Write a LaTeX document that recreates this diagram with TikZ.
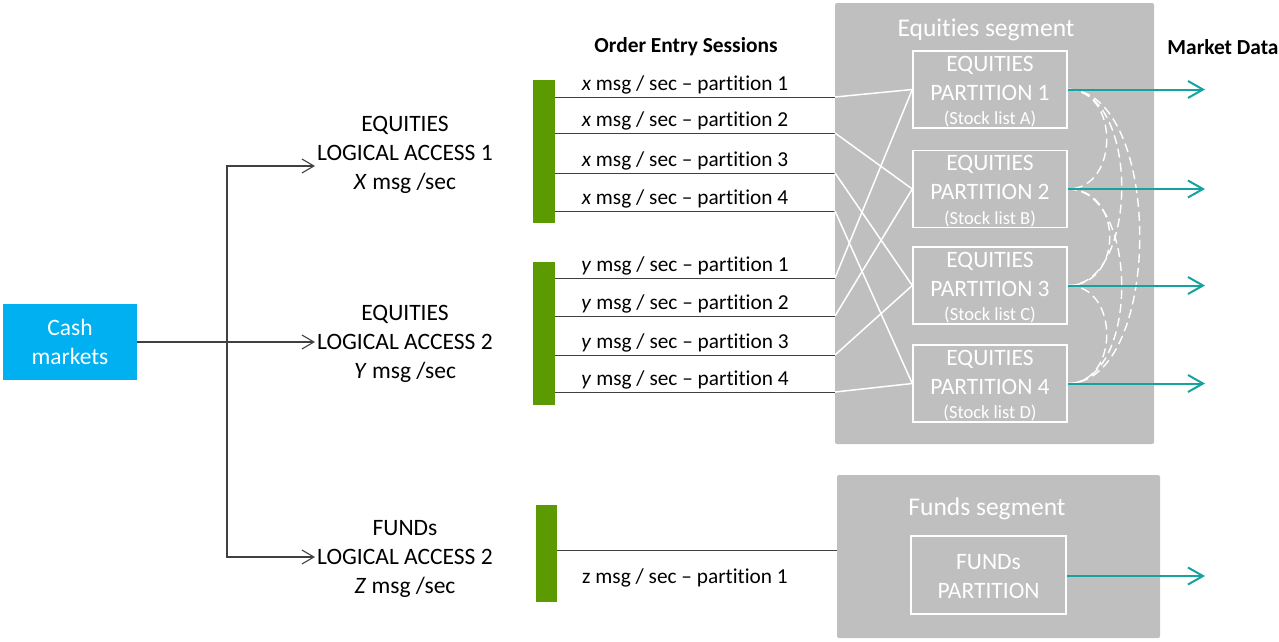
\documentclass[tikz,border=0pt]{standalone}
\usepackage{fontspec}
\setmainfont{Carlito}[Ligatures={NoCommon,NoContextual}]
\usetikzlibrary{arrows.meta}
\definecolor{cashblue}{HTML}{00B0F0}
\definecolor{barGreen}{HTML}{5B9A00}
\definecolor{segGray}{HTML}{BFBFBF}
\definecolor{mdTeal}{HTML}{14A39E}
\definecolor{lineGray}{HTML}{404040}
\begin{document}
\begin{tikzpicture}[x=1pt,y=-1pt,
  bigtxt/.style={font=\fontsize{23.5}{29}\selectfont, align=center, inner sep=0pt},
  medtxt/.style={font=\fontsize{21.3}{24}\selectfont, inner sep=0pt},
  headtxt/.style={font=\fontsize{21.4}{24}\selectfont\bfseries, inner sep=0pt},
  stocktxt/.style={font=\fontsize{18.5}{20}\selectfont, text=white, inner sep=0pt},
  cashbox/.style={fill=cashblue, text=white, minimum width=134, minimum height=76, bigtxt},
  greenbar/.style={fill=barGreen, minimum width=22, inner sep=0pt},
  segbox/.style={fill=segGray, rounded corners=2pt, inner sep=0pt},
  segtitle/.style={font=\fontsize{25.5}{29}\selectfont, inner sep=0pt, text=white},
  partbox/.style={draw=white, line width=1.5pt, minimum width=154, inner sep=0pt},
  parttxt/.style={bigtxt, text=white},
  conn/.style={draw=lineGray, line width=1.1pt, -{Straight Barb[length=12pt,width=14pt,line width=1.1pt]}},
  sess/.style={draw=lineGray, line width=1pt},
  wline/.style={draw=white, line width=1.5pt},
  mdarrow/.style={draw=mdTeal, line width=2pt, -{Straight Barb[length=15pt,width=17pt,line width=2pt]}},
  dsh/.style={draw=white, line width=1.4pt, dash pattern=on 9pt off 5pt}
]
\useasboundingbox (0,0) rectangle (1279,641);

% segments
\node[segbox, minimum width=319, minimum height=441] (eqseg) at (994.5,223.5) {};
\node[segbox, minimum width=323, minimum height=163] (fdseg) at (998.5,556.5) {};
\node[segtitle] (eqtitle) at (986,30) {Equities segment};
\node[segtitle] (fdtitle) at (987,509) {Funds segment};

% headings
\node[headtxt] (oes) at (686,47) {Order Entry Sessions};
\node[headtxt] (mdh) at (1223,47) {Market Data};

% cash markets
\node[cashbox] (cash) at (70,342) {Cash\\markets};

% logical access labels
\node[bigtxt] (la1) at (405,154.5) {EQUITIES\\LOGICAL ACCESS 1\\\textit{X} msg /sec};
\node[bigtxt] (la2) at (405,343.5) {EQUITIES\\LOGICAL ACCESS 2\\\textit{Y} msg /sec};
\node[bigtxt] (la3) at (405,558.5) {FUNDs\\LOGICAL ACCESS 2\\\textit{Z} msg /sec};

\coordinate (br) at (227,342);
\coordinate (t1) at (315,166);
\coordinate (t2) at (315,342);
\coordinate (t3) at (315,557);
\draw[conn] (cash.east) -- (t2);
\draw[conn] (br) |- (t1);
\draw[conn] (br) |- (t3);

% green bars
\node[greenbar, minimum height=143] (bar1) at (544,151.5) {};
\node[greenbar, minimum height=143] (bar2) at (544,333.5) {};
\node[greenbar, minimum width=21, minimum height=97] (bar3) at (546.5,553.5) {};

% partition boxes
\foreach \i/\yy/\L in {1/89.5/A, 2/189/B, 3/285.5/C, 4/383.5/D}{
  \node[partbox, minimum height=77] (p\i) at (990,\yy) {};
  \node[parttxt] (p\i t) at (990,\yy-11.5) {EQUITIES\\PARTITION \i};
  \node[stocktxt] (p\i s) at (990,\yy+30) {(Stock list \L)};
}
\node[partbox, minimum width=155, minimum height=78] (pf) at (988.5,575) {};
\node[parttxt] (pft) at (988.5,576.5) {FUNDs\\PARTITION};

% session lines
\foreach \n/\yy/\lab/\v in {x1/97/1/x, x2/133/2/x, x3/173/3/x, x4/211/4/x,
                            y1/278/1/y, y2/316/2/y, y3/355/3/y, y4/392/4/y}{
  \coordinate (s\n) at (555,\yy);
  \coordinate (e\n) at (835,\yy);
  \draw[sess] (s\n) -- (e\n);
  \node[medtxt] (l\n) at (685,\yy-12) {\textit{\v} msg / sec -- partition \lab};
}
\coordinate (sz1) at (557,550);
\coordinate (ez1) at (837,550);
\draw[sess] (sz1) -- (ez1);
\node[medtxt] (lz1) at (685,578) {z msg / sec -- partition 1};

% white links
\draw[wline] (ex1) -- (p1.west);
\draw[wline] (ex2) -- (p2.west);
\draw[wline] (ex3) -- (p3.west);
\draw[wline] (ex4) -- (p4.west);
\draw[wline] (ey1) -- (p1.west);
\draw[wline] (ey2) -- (p2.west);
\draw[wline] (ey3) -- (p3.west);
\draw[wline] (ey4) -- (p4.west);

% dashed inter-partition arcs
\draw[dsh] (p1.east) .. controls +(52,0) and +(52,0) .. (p2.east);
\draw[dsh] (p2.east) .. controls +(56,0) and +(56,0) .. (p3.east);
\draw[dsh] (p3.east) .. controls +(52,0) and +(52,0) .. (p4.east);
\draw[dsh] (p1.east) .. controls +(72,0) and +(72,0) .. (p3.east);
\draw[dsh] (p2.east) .. controls +(72,0) and +(72,0) .. (p4.east);
\draw[dsh] (p1.east) .. controls +(96,0) and +(96,0) .. (p4.east);

% market data arrows
\coordinate (m1) at (1205,89.5);
\coordinate (m2) at (1205,189);
\coordinate (m3) at (1205,285.5);
\coordinate (m4) at (1205,383.5);
\coordinate (mf) at (1205,576);
\draw[mdarrow] (p1.east) -- (m1);
\draw[mdarrow] (p2.east) -- (m2);
\draw[mdarrow] (p3.east) -- (m3);
\draw[mdarrow] (p4.east) -- (m4);
\draw[mdarrow] (pf.east |- mf) -- (mf);
\end{tikzpicture}
\end{document}
